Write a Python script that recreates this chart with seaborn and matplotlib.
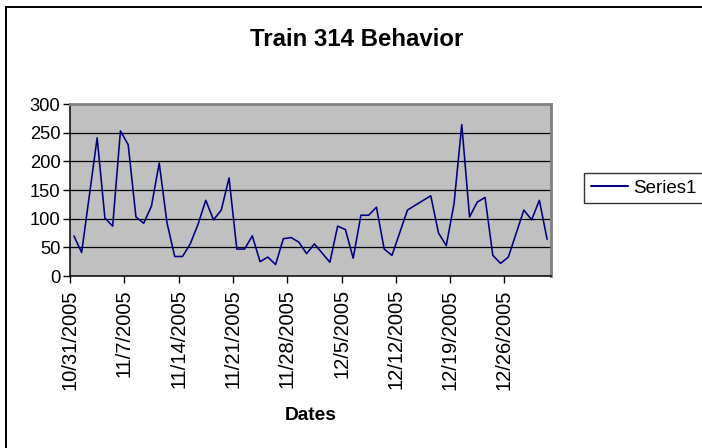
import numpy as np
import pandas as pd
import seaborn as sns
import matplotlib.pyplot as plt
import matplotlib.dates as mdates
from matplotlib.patches import Rectangle


dates = ["2005-10-31", "2005-11-01", "2005-11-03", "2005-11-04", "2005-11-05",
         "2005-11-06", "2005-11-07", "2005-11-08", "2005-11-09", "2005-11-10",
         "2005-11-11", "2005-11-12", "2005-11-13", "2005-11-14", "2005-11-15",
         "2005-11-16", "2005-11-17", "2005-11-18", "2005-11-19", "2005-11-20",
         "2005-11-21", "2005-11-22", "2005-11-23", "2005-11-24", "2005-11-25",
         "2005-11-26", "2005-11-27", "2005-11-28", "2005-11-29", "2005-11-30",
         "2005-12-01", "2005-12-02", "2005-12-03", "2005-12-04", "2005-12-05",
         "2005-12-06", "2005-12-07", "2005-12-08", "2005-12-09", "2005-12-10",
         "2005-12-11", "2005-12-13", "2005-12-16", "2005-12-17", "2005-12-18",
         "2005-12-19", "2005-12-20", "2005-12-21", "2005-12-22", "2005-12-23",
         "2005-12-24", "2005-12-25", "2005-12-26", "2005-12-28", "2005-12-29",
         "2005-12-30", "2005-12-31"]
values = [70, 41, 241, 101, 87, 253, 229, 103, 92, 122,
          197, 93, 34, 34, 56, 90, 132, 98, 115, 171,
          47, 47, 70, 25, 33, 20, 65, 67, 59, 39,
          56, 40, 24, 87, 81, 31, 106, 106, 120, 47,
          36, 115, 140, 75, 53, 126, 264, 103, 129, 137,
          36, 22, 33, 115, 98, 132, 64]
tick_dates = ["2005-10-31", "2005-11-07", "2005-11-14", "2005-11-21", "2005-11-28",
              "2005-12-05", "2005-12-12", "2005-12-19", "2005-12-26"]
y_ticks = [0, 50, 100, 150, 200, 250, 300]

df = pd.DataFrame({"Dates": pd.to_datetime(dates), "Series1": values})

sns.set_style("ticks")
plt.rcParams['font.family'] = ['Liberation Sans', 'DejaVu Sans']
plt.rcParams['text.color'] = 'black'
plt.rcParams['xtick.color'] = 'black'
plt.rcParams['ytick.color'] = 'black'
plt.rcParams['xtick.labelcolor'] = 'black'
plt.rcParams['ytick.labelcolor'] = 'black'

fig = plt.figure(figsize=(7.02, 4.48), dpi=100)
fig.patch.set_facecolor("white")

# outer chart area frame (only top/left edges visible)
fig.patches.append(Rectangle((5.5 / 702, -0.2), 1.5, 1.2 - 7 / 448, transform=fig.transFigure,
                             fill=False, edgecolor="black", linewidth=1.4, clip_on=False))

ax = fig.add_axes([70 / 702, 1 - 276 / 448, 481 / 702, 172 / 448])
ax.set_facecolor("#C0C0C0")

sns.lineplot(data=df, x="Dates", y="Series1", ax=ax, color="#000080", linewidth=1.15,
             label="Series1", legend=False)

half = pd.Timedelta(hours=12)
start = pd.Timestamp("2005-10-31") - half
ax.set_xlim(start, start + pd.Timedelta(days=62))
ax.set_ylim(0, 300)

tick_pos = pd.to_datetime(tick_dates) - half
ax.set_xticks(tick_pos)
ax.set_xticklabels([f"{d.month}/{d.day}/{d.year}" for d in pd.to_datetime(tick_dates)],
                   rotation=90, fontsize=14.5)
ax.set_yticks(y_ticks)
ax.set_yticklabels([str(v) for v in y_ticks], fontsize=13.2)
ax.tick_params(axis="x", length=5, width=1, color="black", labelcolor="black", pad=4.5)
ax.tick_params(axis="y", length=5, width=1, color="black", labelcolor="black", pad=2)

for v in y_ticks[1:-1]:
    ax.axhline(v, color="black", linewidth=0.9, zorder=1)
ax.lines[0].set_zorder(3)

ax.spines["left"].set_color("black")
ax.spines["bottom"].set_color("black")
ax.spines["left"].set_linewidth(1.1)
ax.spines["bottom"].set_linewidth(1.1)
ax.spines["top"].set_color("#808080")
ax.spines["right"].set_color("#808080")
ax.spines["top"].set_linewidth(2)
ax.spines["right"].set_linewidth(2)
for s in ax.spines.values():
    s.set_visible(True)

ax.set_xlabel("")
ax.set_ylabel("")
fig.text(357 / 702, 1 - 40 / 448, "Train 314 Behavior", ha="center", va="center",
         fontsize=17.3, fontweight="bold", color="black")
fig.text(311 / 702, 1 - 415 / 448, "Dates", ha="center", va="center",
         fontsize=13.8, fontweight="bold", color="black")

handles, labels = ax.get_legend_handles_labels()
leg = fig.legend(handles, labels, loc="upper left", bbox_to_anchor=(584 / 702, 1 - 173 / 448),
                 fontsize=13.5, frameon=True, fancybox=False, handlelength=2.0,
                 handletextpad=0.25, borderpad=0.35, borderaxespad=0, labelcolor="black")
leg.get_frame().set_edgecolor("black")
leg.get_frame().set_linewidth(1.0)
leg.get_lines()[0].set_linewidth(1.5)

fig.savefig("out.png", dpi=100)
